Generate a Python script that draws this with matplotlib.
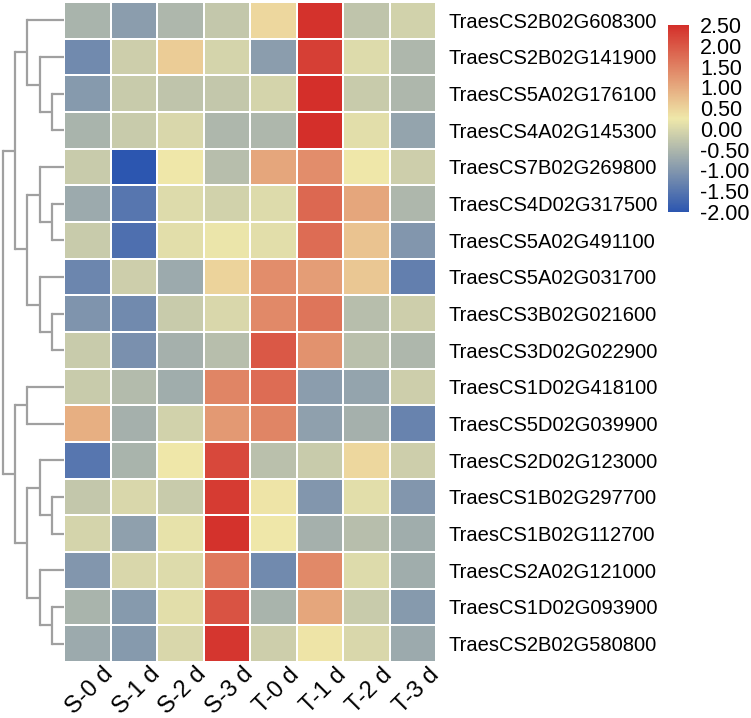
import numpy as np
import matplotlib
matplotlib.use("Agg")
import matplotlib.pyplot as plt
from matplotlib.colors import LinearSegmentedColormap
import matplotlib.transforms as mtransforms

plt.rcParams['font.family'] = ['Liberation Sans', 'DejaVu Sans']

# samples (columns) and genes (rows, in dendrogram order)
samples = ["S-0 d", "S-1 d", "S-2 d", "S-3 d", "T-0 d", "T-1 d", "T-2 d", "T-3 d"]
genes = ["TraesCS2B02G608300", "TraesCS2B02G141900", "TraesCS5A02G176100",
         "TraesCS4A02G145300", "TraesCS7B02G269800", "TraesCS4D02G317500",
         "TraesCS5A02G491100", "TraesCS5A02G031700", "TraesCS3B02G021600",
         "TraesCS3D02G022900", "TraesCS1D02G418100", "TraesCS5D02G039900",
         "TraesCS2D02G123000", "TraesCS1B02G297700", "TraesCS1B02G112700",
         "TraesCS2A02G121000", "TraesCS1D02G093900", "TraesCS2B02G580800"]

# z-scores
values = [
    [-0.55, -0.90, -0.50, -0.25,  0.45,  2.45, -0.30, -0.10],
    [-1.20, -0.15,  0.60, -0.05, -0.90,  2.30,  0.05, -0.50],
    [-0.95, -0.20, -0.30, -0.25, -0.05,  2.50, -0.20, -0.50],
    [-0.55, -0.20,  0.00, -0.50, -0.50,  2.50,  0.10, -0.80],
    [-0.20, -2.00,  0.25, -0.40,  1.05,  1.35,  0.25, -0.15],
    [-0.70, -1.50,  0.05, -0.10,  0.05,  1.80,  1.05, -0.50],
    [-0.20, -1.60,  0.10,  0.20,  0.10,  1.75,  0.70, -1.00],
    [-1.25, -0.15, -0.70,  0.50,  1.35,  1.15,  0.65, -1.35],
    [-1.05, -1.20, -0.20,  0.00,  1.40,  1.65, -0.40, -0.15],
    [-0.20, -1.10, -0.60, -0.40,  2.00,  1.30, -0.35, -0.50],
    [-0.20, -0.45, -0.65,  1.45,  1.75, -0.90, -0.80, -0.15],
    [ 0.95, -0.60, -0.10,  1.20,  1.45, -0.85, -0.60, -1.30],
    [-1.50, -0.55,  0.25,  2.20, -0.35, -0.20,  0.45, -0.15],
    [-0.25,  0.00, -0.20,  2.35,  0.30, -1.00,  0.10, -1.00],
    [-0.05, -0.85,  0.15,  2.45,  0.25, -0.60, -0.40, -0.65],
    [-1.00,  0.00,  0.05,  1.60, -1.20,  1.40,  0.05, -0.65],
    [-0.55, -0.95,  0.10,  2.05, -0.55,  1.05, -0.20, -0.95],
    [-0.70, -0.95,  0.00,  2.40, -0.15,  0.30,  0.00, -0.70],
]

# row clustering (leaf indices nested by merge)
row_tree = (((0, (1, (2, 3))), ((4, (5, 6)), (7, (8, 9)))),
            ((10, 11), ((12, (13, 14)), (15, (16, 17)))))

cbar_ticks = [2.5, 2.0, 1.5, 1.0, 0.5, 0.0, -0.5, -1.0, -1.5, -2.0]

data = np.array(values)
cmap = LinearSegmentedColormap.from_list("byr", ["#2c56b0", "#efe8aa", "#d42f2a"])

W, H = 751, 718
fig = plt.figure(figsize=(W / 100, H / 100), dpi=100)

# heatmap
ax = fig.add_axes([64 / W, 1 - 662 / H, 372 / W, 660 / H])
mesh = ax.pcolormesh(data, cmap=cmap, vmin=-2, vmax=2.5,
                     edgecolors="white", linewidth=1.3)
ax.set_xlim(0, data.shape[1])
ax.set_ylim(data.shape[0], 0)
for s in ax.spines.values():
    s.set_visible(False)
ax.set_yticks(np.arange(len(genes)) + 0.5)
ax.set_yticklabels(genes, fontsize=14.5)
ax.yaxis.tick_right()
ax.tick_params(axis="y", length=0, pad=9)
ax.set_xticks(np.arange(len(samples)) + 0.5)
ax.set_xticklabels(samples, fontsize=17, rotation=45, ha="right",
                   rotation_mode="anchor")
ax.tick_params(axis="x", length=0, pad=1)
off = mtransforms.ScaledTranslation(15 / 100, 0, fig.dpi_scale_trans)
for lab in ax.get_xticklabels():
    lab.set_transform(lab.get_transform() + off)

# dendrogram
dax = fig.add_axes([0, 1 - 662 / H, 64 / W, 660 / H])
step = 12.2
leaf_x = 5


def draw(node, depth):
    # returns y of this node
    if isinstance(node, int):
        return node + 0.5
    ys = [draw(ch, depth + 1) for ch in node]
    for ch, y in zip(node, ys):
        x_end = leaf_x if isinstance(ch, int) else depth + 1
        dax.plot([depth, x_end], [y, y], color="#a0a0a0", lw=1.6,
                 solid_capstyle="butt")
    dax.plot([depth, depth], [ys[0], ys[-1]], color="#a0a0a0", lw=1.6,
             solid_capstyle="projecting")
    return (ys[0] + ys[-1]) / 2


draw(row_tree, 0)
dax.set_xlim(-3 / step, leaf_x)
dax.set_ylim(len(genes), 0)
dax.axis("off")

# colorbar
cax = fig.add_axes([668 / W, 1 - 212 / H, 21 / W, 187 / H])
cb = fig.colorbar(mesh, cax=cax, ticks=cbar_ticks)
cb.outline.set_visible(False)
cb.ax.set_yticklabels(["%.2f" % t for t in cbar_ticks], fontsize=15.5)
cb.ax.tick_params(length=0, pad=8)

fig.savefig("out.png", dpi=100)
